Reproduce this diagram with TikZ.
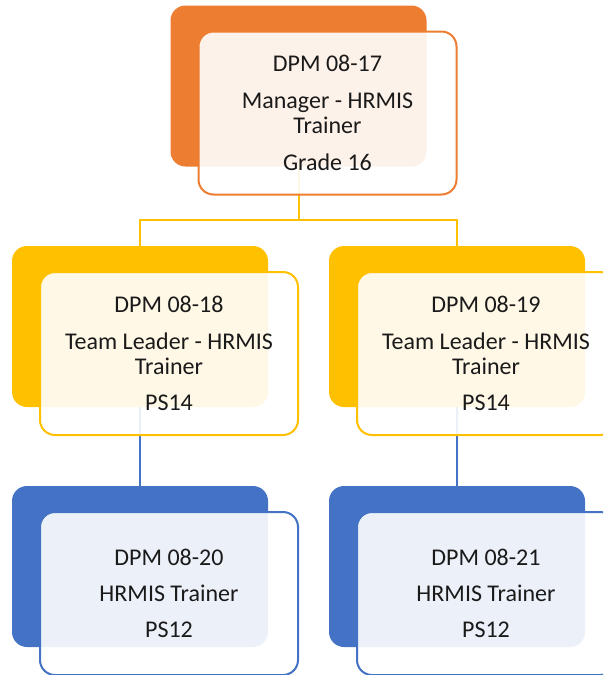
\documentclass[tikz,border=0pt]{standalone}
\usepackage{fontspec}
\setmainfont{Carlito}
\usepackage{tikz}
\usetikzlibrary{positioning}
\definecolor{mgrfill}{HTML}{ED7D31}
\definecolor{leadfill}{HTML}{FFC000}
\definecolor{staffill}{HTML}{4472C4}
\definecolor{dark}{HTML}{1A1A1A}
\tikzset{
    unitback/.style={
        rectangle, rounded corners=15pt, fill=#1, draw=none,
        minimum width=256pt, minimum height=161pt, inner sep=0pt
    },
    unitback/.default=mgrfill,
    unitfront/.style={
        rectangle, rounded corners=15pt, draw=#1, fill=white, fill opacity=0.9,
        text opacity=1, line width=2pt,
        minimum width=258pt, minimum height=163pt, inner sep=0pt,
        font=\fontsize{24}{25}\selectfont, text=dark, align=center,
        xshift=29pt, yshift=-27pt
    },
    unitfront/.default=mgrfill,
    linkline/.style={
        draw=#1, line width=2pt
    },
}
\begin{document}
\begin{tikzpicture}[x=1pt, y=-1pt]

    \useasboundingbox (0,0) rectangle (603,675);
    \clip (0,0) rectangle (603,675);

    % Back plates
    \node[unitback=mgrfill] (topb) at (298.5,86) {};
    \node[unitback=leadfill] (midLb) at (140,326.5) {};
    \node[unitback=leadfill] (midRb) at (457,326.5) {};
    \node[unitback=staffill] (botLb) at (140,566.5) {};
    \node[unitback=staffill] (botRb) at (457,566.5) {};

    % Links
    \coordinate (fork) at (298.5,220);
    \draw[linkline=leadfill] (topb.south) -- (fork);
    \draw[linkline=leadfill] (midLb.north) |- (fork) -| (midRb.north);
    \draw[linkline=staffill] (midLb.south) -- (botLb.north);
    \draw[linkline=staffill] (midRb.south) -- (botRb.north);

    % Front cards
    \node[unitfront=mgrfill] (topf) at (topb) {DPM 08-17\\[12pt]Manager - HRMIS\\Trainer\\[12pt]Grade 16};
    \node[unitfront=leadfill] (midLf) at (midLb) {DPM 08-18\\[12pt]Team Leader - HRMIS\\Trainer\\[11pt]PS14};
    \node[unitfront=leadfill] (midRf) at (midRb) {DPM 08-19\\[12pt]Team Leader - HRMIS\\Trainer\\[11pt]PS14};
    \node[unitfront=staffill] (botLf) at (botLb) {DPM 08-20\\[11pt]HRMIS Trainer\\[11pt]PS12};
    \node[unitfront=staffill] (botRf) at (botRb) {DPM 08-21\\[11pt]HRMIS Trainer\\[11pt]PS12};

\end{tikzpicture}
\end{document}
